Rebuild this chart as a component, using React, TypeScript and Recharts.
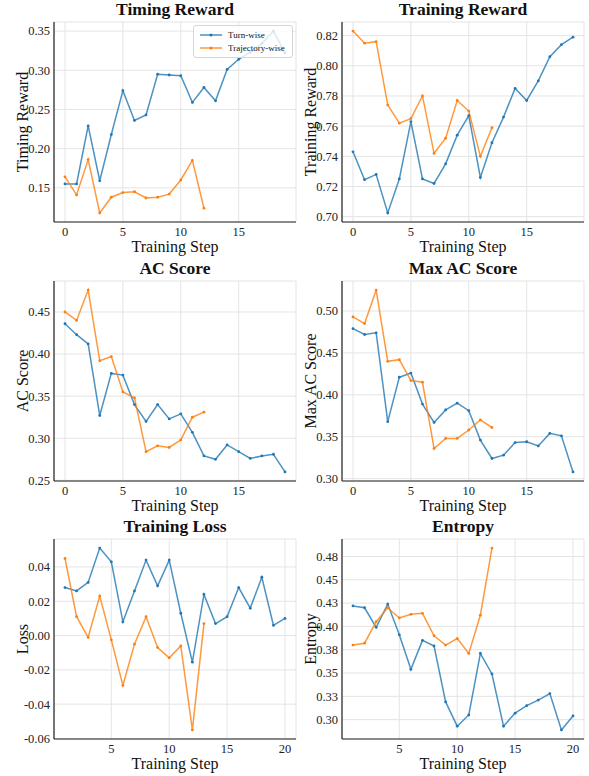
import React from 'react';
import { LineChart, Line, XAxis, YAxis, CartesianGrid, Label } from 'recharts';

// training steps
const stepsFromZero = [0, 1, 2, 3, 4, 5, 6, 7, 8, 9, 10, 11, 12, 13, 14, 15, 16, 17, 18, 19];
const stepsFromOne = [1, 2, 3, 4, 5, 6, 7, 8, 9, 10, 11, 12, 13, 14, 15, 16, 17, 18, 19, 20];

const seriesNames = ['Turn-wise', 'Trajectory-wise'];

const timingTurn = [0.155, 0.155, 0.229, 0.159, 0.218, 0.274, 0.236, 0.243, 0.295, 0.294, 0.293, 0.259, 0.278, 0.261, 0.301, 0.314, 0.323, 0.334, 0.350, 0.322];
const timingTraj = [0.164, 0.141, 0.186, 0.118, 0.138, 0.144, 0.145, 0.137, 0.138, 0.142, 0.160, 0.185, 0.124];

const rewardTurn = [0.743, 0.7245, 0.728, 0.7025, 0.725, 0.763, 0.725, 0.722, 0.735, 0.754, 0.767, 0.726, 0.749, 0.766, 0.785, 0.777, 0.790, 0.806, 0.814, 0.819];
const rewardTraj = [0.823, 0.815, 0.816, 0.774, 0.762, 0.765, 0.780, 0.742, 0.752, 0.777, 0.770, 0.740, 0.759];

const acTurn = [0.436, 0.423, 0.412, 0.327, 0.377, 0.375, 0.340, 0.320, 0.340, 0.323, 0.329, 0.307, 0.279, 0.275, 0.292, 0.284, 0.276, 0.279, 0.281, 0.260];
const acTraj = [0.450, 0.440, 0.476, 0.392, 0.397, 0.355, 0.348, 0.284, 0.291, 0.289, 0.298, 0.325, 0.331];

const maxAcTurn = [0.479, 0.472, 0.474, 0.368, 0.421, 0.426, 0.389, 0.367, 0.382, 0.390, 0.381, 0.346, 0.324, 0.328, 0.343, 0.344, 0.339, 0.354, 0.351, 0.308];
const maxAcTraj = [0.493, 0.485, 0.525, 0.440, 0.442, 0.417, 0.415, 0.336, 0.348, 0.348, 0.358, 0.370, 0.361];

const lossTurn = [0.028, 0.026, 0.031, 0.051, 0.043, 0.008, 0.026, 0.044, 0.029, 0.044, 0.013, -0.0155, 0.024, 0.007, 0.011, 0.028, 0.016, 0.034, 0.006, 0.010];
const lossTraj = [0.045, 0.011, -0.001, 0.023, -0.0025, -0.029, -0.005, 0.011, -0.007, -0.013, -0.006, -0.055, 0.007];

const entropyTurn = [0.422, 0.420, 0.399, 0.424, 0.391, 0.354, 0.385, 0.379, 0.319, 0.293, 0.305, 0.371, 0.349, 0.293, 0.307, 0.315, 0.321, 0.328, 0.289, 0.304];
const entropyTraj = [0.380, 0.382, 0.405, 0.420, 0.409, 0.413, 0.414, 0.390, 0.380, 0.387, 0.371, 0.412, 0.484];

// ticks
const xTicksZero = [0, 5, 10, 15];
const xTicksOne = [5, 10, 15, 20];
const timingTicks = [0.15, 0.2, 0.25, 0.3, 0.35];
const rewardTicks = [0.7, 0.72, 0.74, 0.76, 0.78, 0.8, 0.82];
const acTicks = [0.25, 0.3, 0.35, 0.4, 0.45];
const maxAcTicks = [0.3, 0.35, 0.4, 0.45, 0.5];
const lossTicks = [-0.06, -0.04, -0.02, 0, 0.02, 0.04];
const entropyTicks = [0.3, 0.325, 0.35, 0.375, 0.4, 0.425, 0.45, 0.475];
const entropyTickLabels = ['0.30', '0.33', '0.35', '0.38', '0.40', '0.43', '0.45', '0.48'];

const FONT = "'Liberation Serif', 'Times New Roman', Times, serif";
const BLUE = '#1f77b4';
const ORANGE = '#ff7f0e';
const TICK_SIZE = 12.5;

function padded(values: number[]): [number, number] {
  const lo = Math.min(...values);
  const hi = Math.max(...values);
  const m = (hi - lo) * 0.05;
  return [lo - m, hi + m];
}

type PanelProps = {
  title: string;
  yLabel: string;
  steps: number[];
  turn: number[];
  traj: number[];
  xTicks: number[];
  yTicks: number[];
  yTickText?: string[];
  left: number;
  top: number;
  legend?: boolean;
};

const LegendBox = () => (
  <div
    style={{
      position: 'absolute', left: 193, top: 25, width: 98, height: 31,
      border: '1px solid #d6d6d6', borderRadius: 3, background: 'rgba(255,255,255,0.8)',
      fontFamily: FONT, fontSize: 9, color: '#111',
    }}
  >
    {seriesNames.map((name, i) => (
      <div key={name} style={{ position: 'absolute', left: 6, top: 3 + i * 13.4, height: 12, display: 'flex', alignItems: 'center' }}>
        <svg width={22} height={12} style={{ display: 'block' }}>
          <line x1={0} y1={6} x2={22} y2={6} stroke={i === 0 ? BLUE : ORANGE} strokeOpacity={0.8} strokeWidth={1.5} />
          <circle cx={11} cy={6} r={1.5} fill={i === 0 ? BLUE : ORANGE} />
        </svg>
        <span style={{ marginLeft: 6, whiteSpace: 'nowrap' }}>{name}</span>
      </div>
    ))}
  </div>
);

const XTick = (props: any) => {
  const { x, y, payload } = props;
  return (
    <text x={x} y={y} dy="0.71em" textAnchor="middle" fontFamily={FONT} fontSize={TICK_SIZE} fill="#222">
      {payload.value}
    </text>
  );
};

const makeYTick = (labels?: string[]) => (props: any) => {
  const { x, y, payload, index } = props;
  const text = labels ? labels[index] : Number(payload.value).toFixed(2);
  return (
    <text x={x} y={y} dy="0.35em" textAnchor="end" fontFamily={FONT} fontSize={TICK_SIZE} fill="#222">
      {text}
    </text>
  );
};

const Panel = ({ title, yLabel, steps, turn, traj, xTicks, yTicks, yTickText, left, top, legend }: PanelProps) => {
  const data = steps.map((s, i) => ({ step: s, turn: turn[i], traj: traj[i] }));
  const yDomain = padded([...turn, ...traj]);
  const xDomain = padded(steps);
  return (
    <div style={{ position: 'absolute', left, top, width: 300, height: 258, fontFamily: FONT }}>
      <div
        style={{
          position: 'absolute', left: 54, width: 242, top: 1, textAlign: 'center',
          fontWeight: 'bold', fontSize: 17.5, lineHeight: '17.5px', whiteSpace: 'nowrap', color: '#111',
        }}
      >
        {title}
      </div>
      <LineChart width={300} height={258} data={data} margin={{ top: 22, right: 4, bottom: 0, left: 0 }}>
        <CartesianGrid stroke="#e4e4e4" strokeWidth={1} />
        <XAxis
          type="number" dataKey="step" domain={xDomain} ticks={xTicks} allowDataOverflow interval={0}
          height={36} tickLine={false} tickSize={2} tickMargin={3}
          axisLine={{ stroke: '#222', strokeWidth: 1.2 }} tick={<XTick />}
        >
          <Label value="Training Step" position="insideBottom" offset={6} fill="#111" style={{ fontFamily: FONT, fontSize: 16 }} />
        </XAxis>
        <YAxis
          type="number" domain={yDomain} ticks={yTicks} allowDataOverflow interval={0} width={54}
          tickLine={false} tickSize={2} tickMargin={2}
          axisLine={{ stroke: '#222', strokeWidth: 1.2 }} tick={makeYTick(yTickText)}
        >
          <Label value={yLabel} angle={-90} position="insideLeft" offset={22} fill="#111" style={{ fontFamily: FONT, fontSize: 16, textAnchor: 'middle' }} />
        </YAxis>
        <Line type="linear" dataKey="turn" name={seriesNames[0]} stroke={BLUE} strokeOpacity={0.8} strokeWidth={1.5}
          dot={{ r: 1.4, fill: BLUE, stroke: 'none' }} activeDot={false} isAnimationActive={false} />
        <Line type="linear" dataKey="traj" name={seriesNames[1]} stroke={ORANGE} strokeOpacity={0.8} strokeWidth={1.5}
          dot={{ r: 1.4, fill: ORANGE, stroke: 'none' }} activeDot={false} isAnimationActive={false} />
      </LineChart>
      {legend && <LegendBox />}
    </div>
  );
};

export default function App() {
  return (
    <div style={{ position: 'absolute', left: 0, top: 0, width: 589, height: 776, background: '#fff', overflow: 'hidden', fontFamily: FONT }}>
      <Panel title="Timing Reward" yLabel="Timing Reward" steps={stepsFromZero} turn={timingTurn} traj={timingTraj}
        xTicks={xTicksZero} yTicks={timingTicks} left={0} top={0} legend />
      <Panel title="Training Reward" yLabel="Training Reward" steps={stepsFromZero} turn={rewardTurn} traj={rewardTraj}
        xTicks={xTicksZero} yTicks={rewardTicks} left={288} top={0} />
      <Panel title="AC Score" yLabel="AC Score" steps={stepsFromZero} turn={acTurn} traj={acTraj}
        xTicks={xTicksZero} yTicks={acTicks} left={0} top={259} />
      <Panel title="Max AC Score" yLabel="Max AC Score" steps={stepsFromZero} turn={maxAcTurn} traj={maxAcTraj}
        xTicks={xTicksZero} yTicks={maxAcTicks} left={288} top={259} />
      <Panel title="Training Loss" yLabel="Loss" steps={stepsFromOne} turn={lossTurn} traj={lossTraj}
        xTicks={xTicksOne} yTicks={lossTicks} left={0} top={517} />
      <Panel title="Entropy" yLabel="Entropy" steps={stepsFromOne} turn={entropyTurn} traj={entropyTraj}
        xTicks={xTicksOne} yTicks={entropyTicks} yTickText={entropyTickLabels} left={288} top={517} />
    </div>
  );
}
